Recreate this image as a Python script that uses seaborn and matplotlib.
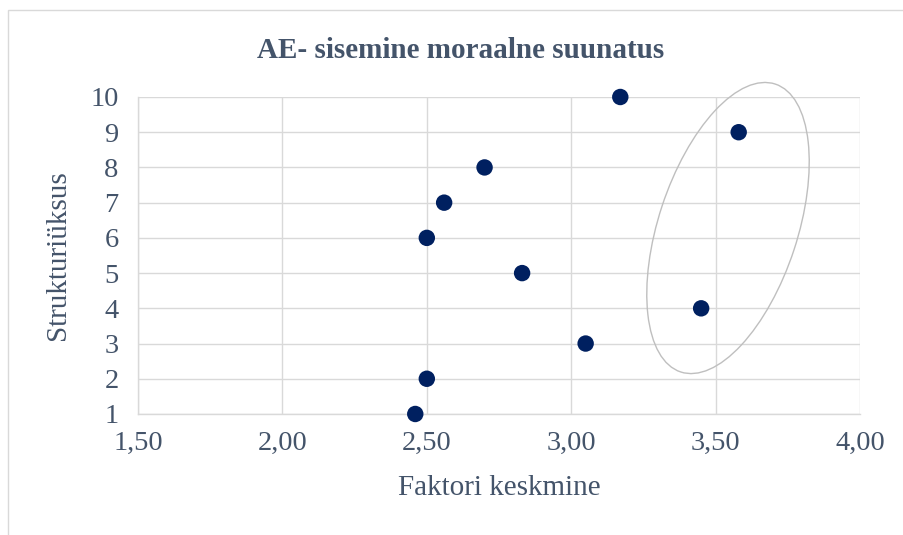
import numpy as np
import pandas as pd
import matplotlib
matplotlib.use("Agg")
import matplotlib.pyplot as plt
import matplotlib.transforms as mtransforms
from matplotlib.patches import Ellipse, Rectangle
import seaborn as sns

# values
faktori_keskmine = [2.46, 2.50, 3.05, 3.45, 2.83, 2.50, 2.56, 2.70, 3.58, 3.17]
struktuuriuksus = [1, 2, 3, 4, 5, 6, 7, 8, 9, 10]
x_ticks = [1.5, 2.0, 2.5, 3.0, 3.5, 4.0]
x_tick_labels = ["1,50", "2,00", "2,50", "3,00", "3,50", "4,00"]

df = pd.DataFrame({"x": faktori_keskmine, "y": struktuuriuksus})

sns.set_theme(style="white")
plt.rcParams["font.family"] = ["Liberation Serif", "DejaVu Serif"]
txt = "#44546A"
grid = "#D9D9D9"

fig = plt.figure(figsize=(9.04, 5.35), dpi=100)
ax = fig.add_axes([0.1527, 0.2262, 0.7986, 0.5925])

# chart border (light gray frame)
fig.patches.append(Rectangle((8 / 904, -0.1), 1.2, 1 - 10 / 535 + 0.1,
                             transform=fig.transFigure, fill=False,
                             edgecolor="#D9D9D9", linewidth=1))

sns.scatterplot(data=df, x="x", y="y", ax=ax, color="#002060", s=140,
                edgecolor="none", zorder=3, clip_on=False)

ax.set_xlim(1.5, 4.0)
ax.set_ylim(1, 10)
ax.set_xticks(x_ticks)
ax.set_xticklabels(x_tick_labels)
ax.set_yticks(struktuuriuksus)
ax.grid(True, color=grid, linewidth=1)
ax.set_axisbelow(True)
for side in ["top", "right"]:
    ax.spines[side].set_visible(False)
for side in ["left", "bottom"]:
    ax.spines[side].set_color(grid)
    ax.spines[side].set_linewidth(1)
ax.tick_params(axis="both", length=0, labelsize=20.5, colors=txt)
ax.tick_params(axis="x", pad=12)
ax.tick_params(axis="y", pad=14)
ax.set_xlabel("Faktori keskmine", fontsize=21, color=txt, labelpad=14)
ax.set_ylabel("Strukturiüksus", fontsize=21, color=txt, labelpad=14)
fig.text(461 / 904, 1 - 50 / 535, "AE- sisemine moraalne suunatus", fontsize=21,
         fontweight="bold", color=txt, ha="center", va="center")

# hand-drawn ellipse around the two right-hand points
trans = fig.dpi_scale_trans + mtransforms.ScaledTranslation(3.543, 6.28, ax.transData)
ax.add_patch(Ellipse((0, 0), width=3.03, height=1.39, angle=71.8,
                     transform=trans, fill=False, edgecolor="#BFBFBF",
                     linewidth=1, clip_on=False, zorder=2))

fig.savefig("out.png", dpi=100)
